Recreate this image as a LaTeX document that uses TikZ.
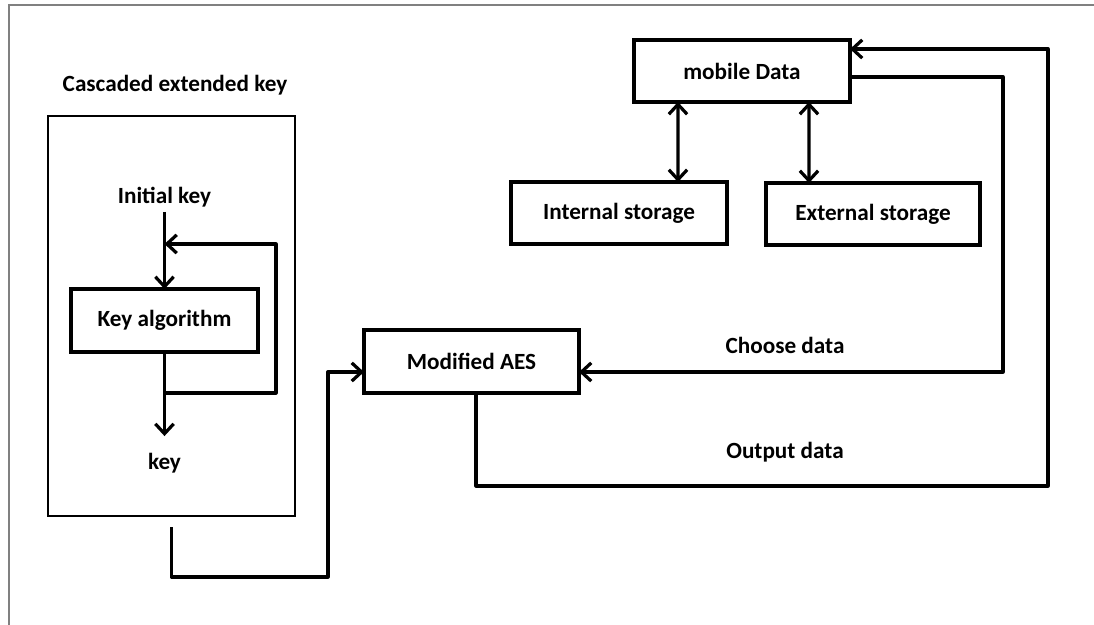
\documentclass[tikz,border=0pt]{standalone}
\usepackage{fontspec}
\setmainfont{Carlito}
\usetikzlibrary{arrows.meta,calc}
\tikzset{/AES/S/box/.style={
	shape=rectangle, draw=black, line width=2.3pt, inner sep=0pt, outer sep=0pt
}}
\tikzset{/AES/S/flow/.style={
	draw=black, line width=2.3pt, line join=round,
	-{Straight Barb[length=7pt, width=13pt]}
}}
\tikzset{/AES/S/dflow/.style={
	draw=black, line width=2.3pt,
	{Straight Barb[length=7pt, width=13pt]}-{Straight Barb[length=7pt, width=13pt]}
}}

\begin{document}
\begin{tikzpicture}[x=0.025cm, y=-0.025cm, font=\fontsize{16.5}{20}\bfseries\selectfont]
				\useasboundingbox (0,0) rectangle (1094,625);
				\draw[gray, line width=1pt] (9,625) -- (9,5) -- (1094,5);
				\path (175,85) node (title) {Cascaded extended key};
				\path (171.5,316) node[/AES/S/box, line width=2pt, minimum width=6.175cm, minimum height=10cm] (casc) {};
				\path (164.5,320.5) node[/AES/S/box, minimum width=4.675cm, minimum height=1.575cm] (keyalg) {Key algorithm};
				\path (keyalg.center) ++ (0,-123.5) node (initial) {Initial key};
				\path (keyalg.center) ++ (0,142.5) node (keyout) {key};
				\path (471.5,361.5) node[/AES/S/box, minimum width=5.375cm, minimum height=1.575cm] (aes) {Modified AES};
				\path (742,71) node[/AES/S/box, minimum width=5.4cm, minimum height=1.55cm] (mobile) {mobile Data};
				\path (619,213) node[/AES/S/box, minimum width=5.4cm, minimum height=1.55cm] (internal) {Internal storage};
				\path (internal.center) ++ (254,1) node[/AES/S/box, minimum width=5.35cm, minimum height=1.55cm] (external) {External storage};
				\path (785,345) node (choose) {Choose data};
				\path (785,452) node (output) {Output data};
				\coordinate (split) at ($(keyalg.south)+(0,41)$);
				\coordinate (merge) at ($(keyalg.north)+(0,-45)$);
				\draw[/AES/S/flow] (initial.south) -- (keyalg.north);
				\draw[/AES/S/flow] (keyalg.south) -- ($(keyout.north)+(0,-12)$);
				\draw[/AES/S/flow] (split) -- ++(111.5,0) |- (merge);
				\draw[/AES/S/flow] ($(casc.south)+(0,11)$) |- ($(aes.west)+(-36,215.5)$) |- ($(aes.west)+(0,10.5)$);
				\draw[/AES/S/flow] ($(mobile.east)+(0,6)$) -| ($(aes.east)+(424,10.5)$) -- ($(aes.east)+(0,10.5)$);
				\draw[/AES/S/flow] ($(aes.south)+(4.5,0)$) |- ($(mobile.east)+(198,415)$) |- ($(mobile.east)+(0,-22)$);
				\draw[/AES/S/dflow] ($(mobile.south west)+(44,0)$) -- ($(internal.north)+(59,0)$);
				\draw[/AES/S/dflow] ($(mobile.south west)+(175,0)$) -- ($(external.north)+(-64,0)$);
			\end{tikzpicture}
\end{document}
